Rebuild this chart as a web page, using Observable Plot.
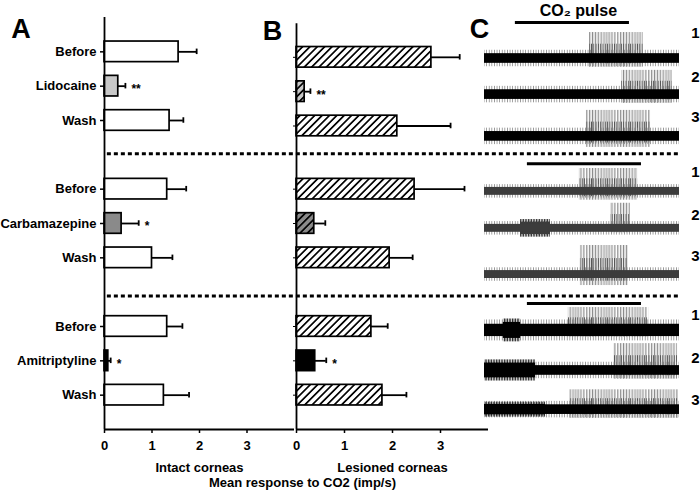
<!DOCTYPE html>
<html><head><meta charset="utf-8">
<script src="https://cdn.jsdelivr.net/npm/d3@7"></script>
<script src="https://cdn.jsdelivr.net/npm/@observablehq/plot@0.6"></script>
<style>
html,body{margin:0;padding:0;background:#fff;}
#wrap{position:relative;width:700px;height:491px;overflow:hidden;}
#wrap svg{position:absolute;left:0;top:0;overflow:visible;background:transparent;}
</style></head><body><div id="wrap"></div>
<script>
// ---------- Panels A & B : bar data ----------
const conditions = ["Before","Lidocaine","Wash","Before","Carbamazepine","Wash","Before","Amitriptyline","Wash"];
const slotA = [0,1,2,4,5,6,8,9,10];
const slotB = [0.16,1.16,2.16,4,5,6,8,9,10];
const intactMean = [1.56,0.29,1.37,1.32,0.36,1.00,1.32,0.08,1.25];
const intactSem  = [0.38,0.15,0.29,0.40,0.36,0.43,0.32,0.05,0.53];
const lesionMean = [2.81,0.17,2.10,2.46,0.37,1.94,1.56,0.39,1.79];
const lesionSem  = [0.59,0.12,1.11,1.04,0.23,0.48,0.34,0.23,0.50];
const intactSig  = ["","**","","","*","","","*",""];
const lesionSig  = ["","**","","","","","","*",""];
const barTone    = ["none","light","none","none","mid","none","none","dark","none"];
const groupSeparators = [2.97, 7.11];
const xTicks = [0,1,2,3];

// ---------- Panel C : trace data (time in s, row units) ----------
const traceNumber = ["1","2","3","1","2","3","1","2","3"];
const traceRow    = [0,0.82,1.77,3.02,3.86,4.91,6.18,7.09,7.98];
const traceNoise  = [0.11,0.11,0.11,0.09,0.09,0.09,0.14,0.11,0.11];
const traceShade  = ["#000","#000","#000","#3c3c3c","#3c3c3c","#3c3c3c","#000","#000","#000"];
const burstStart  = [32.3,42.2,31.1,29.2,38.8,29.5,25.8,39.7,26.2];
const burstEnd    = [48.9,57.8,51.1,47.1,44.9,44.3,50.5,59.4,59.7];
const burstUp     = [0.59,0.55,0.59,0.52,0.57,0.66,0.52,0.61,0.45];
const burstDown   = [0.20,0.20,0.25,0.20,0.10,0.25,0.15,0.20,0.20];
const numberRow   = [-0.57,0.43,1.34,2.59,3.57,4.50,5.84,6.82,7.77];
const noisyTrace  = [4,6,7,8];
const noisyStart  = [11.1,5.8,0,0];
const noisyEnd    = [20.3,11.1,15.7,18.8];
const noisyAmp    = [0.20,0.26,0.24,0.17];
const pulseStart  = [9.5,13.2,13.2];
const pulseEnd    = [44.6,48.3,48.3];
const pulseRow    = [-0.82,2.39,5.57];
const pulseLabel  = ["CO₂ pulse"];
const pulseLabelX = [28.9];
const pulseLabelRow = [-1.09];

const FONT = '"Liberation Sans", Arial, Helvetica, sans-serif';
const toneColor = {none:"#fff", light:"#c8c8c8", mid:"#8a8a8a", dark:"#000"};
const baseStyle = {fontFamily: FONT, fontWeight: "bold", fontSize: "13px", background: "transparent", overflow: "visible"};
const wrap = document.getElementById("wrap");

function rowsFor(slots, means, sems, sigs) {
  return conditions.map((c, i) => ({label: c, slot: slots[i], mean: means[i], sem: sems[i], sig: sigs[i],
    tone: toneColor[barTone[i]], hatch: barTone[i] !== "dark"}));
}
const rowsA = rowsFor(slotA, intactMean, intactSem, intactSig);
const rowsB = rowsFor(slotB, lesionMean, lesionSem, lesionSig);
const labelOf = new Map(slotA.map((s, i) => [s, conditions[i]]));

function barMarks(rows, hatched) {
  const m = [
    Plot.rect(rows, {x1: 0, x2: "mean", y1: d => d.slot - 0.3, y2: d => d.slot + 0.3, fill: "tone"})
  ];
  if (hatched) m.push(Plot.rect(rows.filter(d => d.hatch), {x1: 0, x2: "mean", y1: d => d.slot - 0.3, y2: d => d.slot + 0.3, fill: "url(#hatchB)"}));
  m.push(
    Plot.rect(rows, {x1: 0, x2: "mean", y1: d => d.slot - 0.3, y2: d => d.slot + 0.3, fill: "none", stroke: "#000", strokeWidth: 1.7}),
    Plot.ruleY(rows, {y: "slot", x1: "mean", x2: d => d.mean + d.sem, stroke: "#000", strokeWidth: 1.8}),
    Plot.ruleX(rows, {x: d => d.mean + d.sem, y1: d => d.slot - 0.08, y2: d => d.slot + 0.08, stroke: "#000", strokeWidth: 1.8}),
    Plot.text(rows, {x: d => d.mean + d.sem, y: "slot", text: "sig", textAnchor: "start", dx: 6, dy: 3, fontSize: 12, fontWeight: "bold"})
  );
  return m;
}
const fmtInt = d3.format("d");

// ---------- Panel A ----------
const plotA = Plot.plot({
  width: 700, height: 491, marginLeft: 104, marginRight: 406, marginTop: 17, marginBottom: 62,
  x: {domain: [0, 4]},
  y: {domain: [-1, 11], range: [17, 429]},
  color: {type: "identity"},
  style: baseStyle,
  marks: [
    Plot.ruleY(groupSeparators, {x1: 0.06, x2: 12.13, stroke: "#000", strokeWidth: 3, strokeDasharray: "4 3"}),
    ...barMarks(rowsA, false),
    Plot.ruleX([0], {y1: -1, y2: 11, stroke: "#000", strokeWidth: 1.8}),
    Plot.ruleY([11], {stroke: "#000", strokeWidth: 1.8}),
    Plot.axisY({ticks: slotA, tickFormat: d => labelOf.get(d), tickSize: 4, tickPadding: 4, label: null, fontSize: 13, fontWeight: "bold", strokeWidth: 1.5}),
    Plot.axisX({ticks: xTicks, tickFormat: fmtInt, tickSize: 4, tickPadding: 7, label: null, fontSize: 13, fontWeight: "bold", strokeWidth: 1.5}),
    Plot.text(["Intact corneas"], {frameAnchor: "bottom", dy: 42, fontSize: 13, fontWeight: "bold"}),
    Plot.text(["A"], {frameAnchor: "top-left", dx: -83.5, dy: 1, fontSize: 27, fontWeight: "bold", textAnchor: "middle"})
  ]
});

// ---------- Panel B ----------
const plotB = Plot.plot({
  width: 700, height: 491, marginLeft: 296, marginRight: 212, marginTop: 23, marginBottom: 62,
  x: {domain: [0, 4]},
  y: {domain: [-1, 11], range: [17, 429]},
  color: {type: "identity"},
  style: baseStyle,
  marks: [
    ...barMarks(rowsB, true),
    Plot.ruleX([0], {y1: -0.82, y2: 11, stroke: "#000", strokeWidth: 1.8}),
    Plot.ruleY([11], {stroke: "#000", strokeWidth: 1.8}),
    Plot.axisY({ticks: slotB, tickFormat: () => "", tickSize: 3, label: null, strokeWidth: 1}),
    Plot.axisX({ticks: xTicks, tickFormat: fmtInt, tickSize: 4, tickPadding: 7, label: null, fontSize: 13, fontWeight: "bold", strokeWidth: 1.5}),
    Plot.text(["Lesioned corneas"], {frameAnchor: "bottom", dy: 42, fontSize: 13, fontWeight: "bold"}),
    Plot.text(["Mean response to CO2 (imp/s)"], {frameAnchor: "bottom-left", dx: 6, dy: 57, textAnchor: "middle", fontSize: 13, fontWeight: "bold"}),
    Plot.text(["B"], {frameAnchor: "top-left", dx: -24, dy: -3, fontSize: 27, fontWeight: "bold", textAnchor: "middle"})
  ]
});
d3.select(plotB).insert("defs", ":first-child").html(
  `<pattern id="hatchB" patternUnits="userSpaceOnUse" width="5.2" height="5.2" patternTransform="rotate(45)">
     <line x1="2.6" y1="-1" x2="2.6" y2="7" stroke="#000" stroke-width="1.7"/>
   </pattern>`);

// ---------- Panel C ----------
const traces = traceRow.map((row, i) => ({row, noise: traceNoise[i], shade: traceShade[i],
  b0: burstStart[i], b1: burstEnd[i], up: burstUp[i], down: burstDown[i], num: traceNumber[i], numRow: numberRow[i]}));
const noisy = noisyTrace.map((t, i) => ({row: traceRow[t], t0: noisyStart[i], t1: noisyEnd[i], amp: noisyAmp[i], shade: traceShade[t]}));
const pulses = pulseRow.map((r, i) => ({row: r, t0: pulseStart[i], t1: pulseEnd[i]}));

const plotC = Plot.plot({
  width: 700, height: 491, marginLeft: 484, marginRight: 21, marginTop: 58, marginBottom: 81,
  x: {domain: [0, 60], range: [484, 679], axis: null},
  y: {domain: [0, 8], range: [58, 410], axis: null},
  color: {type: "identity"},
  style: baseStyle,
  marks: [
    Plot.rect(traces, {x1: "b0", x2: "b1", y1: d => d.row - d.up, y2: d => d.row + d.down, fill: "url(#spikes)"}),
    Plot.rect(traces, {x1: "b0", x2: "b1", y1: d => d.row - d.up * 0.55, y2: d => d.row + d.down * 0.6, fill: "url(#spikesDark)"}),
    Plot.rect(traces, {x1: 0, x2: 60, y1: d => d.row - d.noise * 1.7, y2: d => d.row + d.noise * 1.7, fill: "url(#fuzz)"}),
    Plot.rect(noisy, {x1: "t0", x2: "t1", y1: d => d.row - d.amp, y2: d => d.row + d.amp, fill: "url(#noiseDense)"}),
    Plot.rect(noisy, {x1: "t0", x2: "t1", y1: d => d.row - d.amp * 0.7, y2: d => d.row + d.amp * 0.7, fill: "shade"}),
    Plot.rect(traces, {x1: 0, x2: 60, y1: d => d.row - d.noise, y2: d => d.row + d.noise, fill: "shade"}),
    Plot.ruleY(pulses, {y: "row", x1: "t0", x2: "t1", stroke: "#000", strokeWidth: 3}),
    Plot.text(pulseLabel, {x: () => pulseLabelX[0], y: () => pulseLabelRow[0], text: d => d, fontSize: 16, fontWeight: "bold"}),
    Plot.text(traces, {x: () => 64.9, y: "numRow", text: "num", fontSize: 15, fontWeight: "bold"}),
    Plot.text(["C"], {frameAnchor: "top-left", dx: -5, dy: -39.5, fontSize: 27, fontWeight: "bold", textAnchor: "middle"})
  ]
});
d3.select(plotC).insert("defs", ":first-child").html(
  `<pattern id="spikes" patternUnits="userSpaceOnUse" width="3.1" height="20">
     <rect x="0" y="0" width="0.9" height="20" fill="#8a8a8a"/>
     <rect x="1.6" y="0" width="0.7" height="20" fill="#b5b5b5"/>
   </pattern>
   <pattern id="spikesDark" patternUnits="userSpaceOnUse" width="2.3" height="20">
     <rect x="0" y="0" width="0.8" height="20" fill="#555"/>
   </pattern>
   <pattern id="fuzz" patternUnits="userSpaceOnUse" width="2.6" height="20">
     <rect x="0" y="0" width="0.7" height="20" fill="#777"/>
   </pattern>
   <pattern id="noiseDense" patternUnits="userSpaceOnUse" width="1.6" height="20">
     <rect x="0" y="0" width="0.9" height="20" fill="#222"/>
   </pattern>`);

wrap.append(plotC, plotB, plotA);
</script></body></html>
